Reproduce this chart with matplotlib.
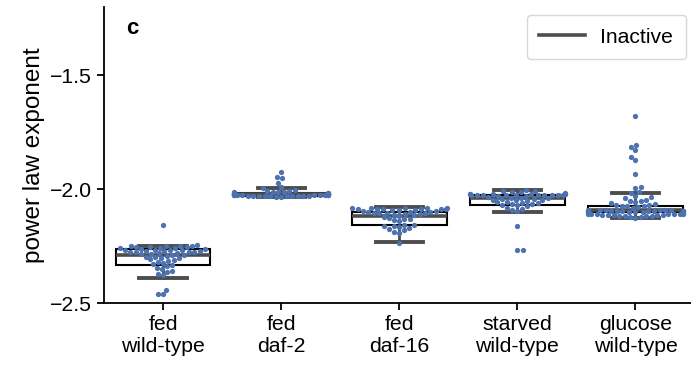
import matplotlib
matplotlib.use("Agg")
import matplotlib.pyplot as plt
from matplotlib.lines import Line2D
import numpy as np
import pandas as pd
import seaborn as sns

plt.rcParams['font.family'] = ['Liberation Sans', 'DejaVu Sans']

groups = ["fed\nwild-type", "fed\ndaf-2", "fed\ndaf-16", "starved\nwild-type", "glucose\nwild-type"]

fed_wt = [-2.156,
          -2.245, -2.247, -2.248, -2.250, -2.250, -2.252, -2.253, -2.255, -2.256, -2.257, -2.258, -2.260,
          -2.262, -2.264, -2.265, -2.266, -2.268, -2.270, -2.270, -2.272, -2.273, -2.275, -2.276, -2.277, -2.279, -2.280,
          -2.283, -2.285, -2.288, -2.290, -2.292, -2.295, -2.297, -2.300,
          -2.303, -2.307, -2.310, -2.315, -2.318, -2.322, -2.328,
          -2.332, -2.338, -2.343, -2.350, -2.357,
          -2.362, -2.370, -2.378,
          -2.441, -2.458, -2.460]

fed_daf2 = [-1.925, -1.948, -1.952, -1.970, -1.990, -1.995, -2.003, -2.006,
            -2.008, -2.010, -2.011, -2.012, -2.013, -2.014, -2.015, -2.016,
            -2.018, -2.019, -2.019, -2.020, -2.020, -2.021, -2.021, -2.022, -2.022, -2.023, -2.023, -2.024,
            -2.025, -2.025, -2.026, -2.026, -2.026, -2.027, -2.027, -2.027, -2.028, -2.028,
            -2.028, -2.029, -2.029, -2.029, -2.030, -2.030, -2.031, -2.031, -2.032, -2.032]

fed_daf16 = [-2.080, -2.081, -2.082, -2.083, -2.084, -2.085, -2.085, -2.086, -2.087, -2.088, -2.088, -2.089, -2.090, -2.090,
             -2.095, -2.097, -2.098, -2.100, -2.101, -2.102, -2.104, -2.105, -2.106, -2.108, -2.110, -2.111, -2.113, -2.115,
             -2.120, -2.124, -2.128, -2.131, -2.135, -2.140,
             -2.155, -2.158, -2.160, -2.163, -2.166, -2.170,
             -2.175, -2.180, -2.185, -2.190,
             -2.236]

starved_wt = [-2.003, -2.006, -2.008, -2.010, -2.012, -2.015,
              -2.019, -2.020, -2.021, -2.021, -2.022, -2.022, -2.023, -2.023, -2.024, -2.024, -2.025,
              -2.025, -2.026, -2.026, -2.027, -2.027, -2.028, -2.029,
              -2.035, -2.036, -2.038, -2.040, -2.041, -2.043, -2.045, -2.046, -2.048, -2.050,
              -2.055, -2.057, -2.059, -2.061, -2.063, -2.065, -2.067, -2.070,
              -2.075, -2.080, -2.085, -2.090, -2.095,
              -2.159, -2.265, -2.267]

glucose_wt = [-1.679, -1.804, -1.815, -1.829, -1.858, -1.873, -1.932, -1.990, -1.994, -2.012, -2.018,
              -2.030, -2.035, -2.040, -2.045, -2.050, -2.053, -2.055, -2.060,
              -2.065, -2.067, -2.069, -2.071, -2.073, -2.075, -2.077, -2.080,
              -2.090, -2.090, -2.091, -2.091, -2.092, -2.092, -2.093, -2.093, -2.094, -2.094,
              -2.095, -2.095, -2.096, -2.096, -2.097, -2.097, -2.098, -2.098, -2.099, -2.100,
              -2.105, -2.105, -2.106, -2.107, -2.107, -2.108, -2.109, -2.109, -2.110, -2.110, -2.111,
              -2.112, -2.112, -2.113, -2.114, -2.115, -2.116, -2.117, -2.118, -2.120, -2.122, -2.125]

# box summary statistics per group
q1 = [-2.331, -2.028, -2.157, -2.068, -2.100]
med = [-2.289, -2.022, -2.119, -2.040, -2.092]
q3 = [-2.262, -2.017, -2.098, -2.027, -2.072]
whislo = [-2.387, -2.032, -2.233, -2.098, -2.126]
whishi = [-2.247, -1.994, -2.078, -2.005, -2.016]

series = [fed_wt, fed_daf2, fed_daf16, starved_wt, glucose_wt]

df = pd.DataFrame({
    "group": np.repeat(groups, [len(s) for s in series]),
    "exponent": np.concatenate(series),
})

fig = plt.figure(figsize=(6.91, 3.71), dpi=100)
ax = fig.add_axes([104 / 691, 67.7 / 371, 1 - 104 / 691, 296.3 / 371])

gray = "#4d4d4d"
stats = [dict(q1=a, med=m, q3=b, whislo=lo, whishi=hi, fliers=[])
         for a, m, b, lo, hi in zip(q1, med, q3, whislo, whishi)]
ax.bxp(stats, positions=range(len(groups)), widths=0.8, patch_artist=True,
       showfliers=False,
       boxprops=dict(facecolor="white", edgecolor="black", linewidth=1.5),
       medianprops=dict(color=gray, linewidth=2.6),
       whiskerprops=dict(color=gray, linewidth=2.0),
       capprops=dict(color=gray, linewidth=2.8),
       manage_ticks=False, zorder=1)

sns.swarmplot(data=df, x="group", y="exponent", order=groups, color="#4C72B0",
              size=3.8, ax=ax, zorder=3)

ax.set_xlim(-0.5, 4.47)
ax.set_ylim(-2.5, -1.2)
ax.set_yticks([-2.5, -2.0, -1.5])
ax.set_xticks(range(len(groups)))
ax.set_xticklabels(groups)
ax.set_xlabel("")
ax.set_ylabel("power law exponent", fontsize=17.5)
ax.tick_params(labelsize=15.3, width=1.3, length=5)
for side in ("top", "right"):
    ax.spines[side].set_visible(False)
for side in ("left", "bottom"):
    ax.spines[side].set_linewidth(1.3)

ax.text(0.049, 0.929, "c", transform=ax.transAxes, fontsize=16, fontweight="bold",
        va="center", ha="center")

handle = Line2D([], [], color=gray, linewidth=2.6)
ax.legend([handle], ["Inactive"], loc="upper right", fontsize=15.2,
          bbox_to_anchor=(0.9915, 0.973), borderaxespad=0,
          handlelength=2.15, handletextpad=0.75, borderpad=0.6)

fig.savefig("out.png", dpi=100)
